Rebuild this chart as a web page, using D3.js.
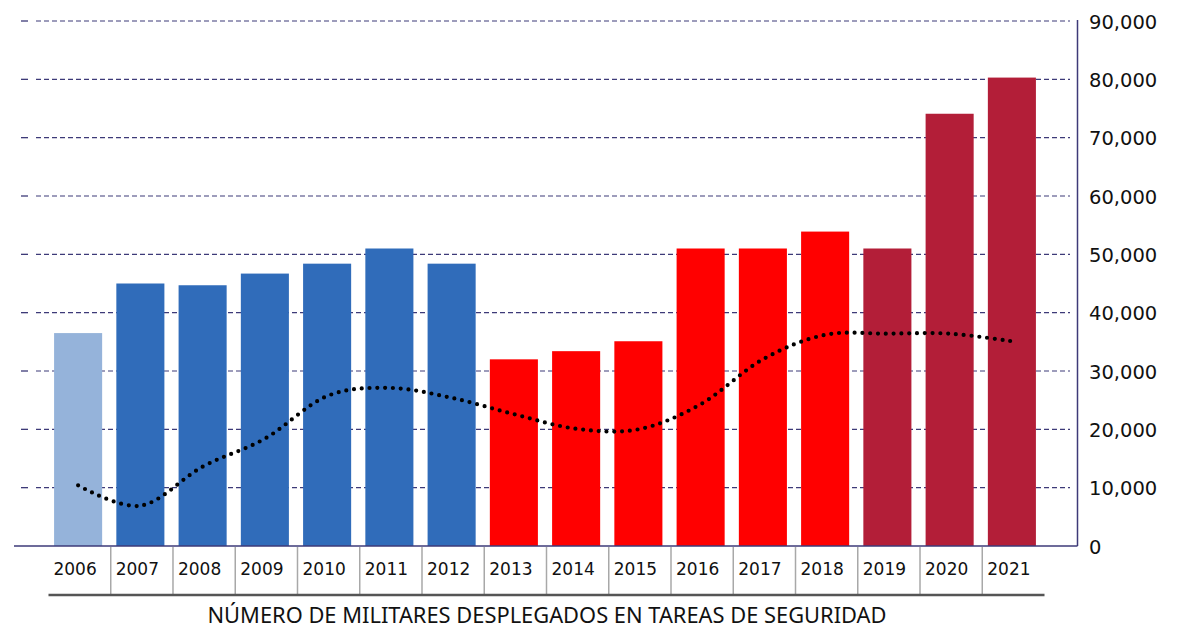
<!DOCTYPE html>
<html>
<head>
<meta charset="utf-8">
<script src="https://cdn.jsdelivr.net/npm/d3@7"></script>
<style>
  html, body { margin: 0; padding: 0; background: #ffffff; }
  svg { display: block; }
</style>
</head>
<body>
<div id="chart"></div>
<script>
// ---- data ----
const years = ["2006","2007","2008","2009","2010","2011","2012","2013","2014","2015","2016","2017","2018","2019","2020","2021"];
const troops = [36500, 45000, 44700, 46700, 48400, 51000, 48400, 32000, 33400, 35100, 51000, 51000, 53900, 51000, 74100, 80300];
const trend = [10400, 6900, 13600, 18400, 25700, 27100, 25400, 22600, 20100, 20000, 24300, 32000, 36200, 36400, 36400, 35100];
const groups = ["light","blue","blue","blue","blue","blue","blue","red","red","red","red","red","red","dark","dark","dark"];
const yTicks = [0, 10000, 20000, 30000, 40000, 50000, 60000, 70000, 80000, 90000];
const title = "NÚMERO DE MILITARES DESPLEGADOS EN TAREAS DE SEGURIDAD";

// ---- styles ----
const colors = { light: "#95B3DA", blue: "#306CBA", red: "#FF0000", dark: "#B31E38" };
const W = 1180, H = 628;
const axisColor = "#3D3A78";

const svg = d3.select("#chart").append("svg").attr("width", W).attr("height", H);

const x = d3.scaleBand().domain(years).range([13, 1077]).paddingInner(0.228).paddingOuter(0.66);
const y = d3.scaleLinear().domain([0, 90000]).range([546, 21]);

// grid lines
const grid = svg.append("g");
yTicks.filter(d => d > 0).forEach(t => {
  grid.append("line").attr("x1", 21).attr("x2", 28).attr("y1", y(t)).attr("y2", y(t))
    .attr("stroke", axisColor).attr("stroke-width", 1.3);
  grid.append("line").attr("x1", 36).attr("x2", 1070).attr("y1", y(t)).attr("y2", y(t))
    .attr("stroke", axisColor).attr("stroke-width", 1.2).attr("stroke-dasharray", "5,3");
});

// bars
svg.append("g").selectAll("rect").data(years).join("rect")
  .attr("x", d => x(d))
  .attr("width", x.bandwidth())
  .attr("y", (d, i) => y(troops[i]))
  .attr("height", (d, i) => y(0) - y(troops[i]))
  .attr("fill", (d, i) => colors[groups[i]]);

// dotted trend line
const line = d3.line()
  .x((d, i) => x(years[i]) + x.bandwidth() / 2)
  .y(d => y(d))
  .curve(d3.curveCardinal.tension(0));
svg.append("path").datum(trend)
  .attr("d", line)
  .attr("fill", "none")
  .attr("stroke", "#000")
  .attr("stroke-width", 4.2)
  .attr("stroke-linecap", "round")
  .attr("stroke-dasharray", "0,7.8");

// axes lines
svg.append("line").attr("x1", 14).attr("x2", 1077.5).attr("y1", y(0)).attr("y2", y(0))
  .attr("stroke", axisColor).attr("stroke-width", 1.5);
svg.append("line").attr("x1", 1077.5).attr("x2", 1077.5).attr("y1", y(90000) - 1).attr("y2", y(0))
  .attr("stroke", axisColor).attr("stroke-width", 1.5);

// right axis labels
const yAxis = d3.axisRight(y).tickValues(yTicks).tickSize(0).tickPadding(0)
  .tickFormat(d3.format(","));
const ya = svg.append("g").attr("transform", "translate(1089,0)").call(yAxis);
ya.select(".domain").remove();
ya.selectAll("text")
  .attr("font-family", "'DejaVu Sans', sans-serif")
  .attr("font-size", "19.5px")
  .attr("fill", "#111")
  .attr("dy", "0.36em");

// category table
const step = x.step();
const cellOff = 1.5;
const table = svg.append("g");
years.forEach((yr, i) => {
  const cx = x(yr) + x.bandwidth() / 2 + cellOff;
  if (i > 0) {
    table.append("line").attr("x1", cx - step / 2).attr("x2", cx - step / 2)
      .attr("y1", y(0) + 1).attr("y2", 594)
      .attr("stroke", "#A8A8A8").attr("stroke-width", 1.5);
  }
});
const xAxis = d3.axisBottom(x).tickSize(0).tickPadding(0);
const xa = svg.append("g").attr("transform", "translate(-3,0)").call(xAxis);
xa.select(".domain").remove();
xa.selectAll("text")
  .attr("font-family", "'DejaVu Sans', sans-serif")
  .attr("font-size", "17px")
  .attr("fill", "#111")
  .attr("dy", 0)
  .attr("y", 575);

const first = x(years[0]) + x.bandwidth() / 2 + cellOff - step / 2;
const last = x(years[years.length - 1]) + x.bandwidth() / 2 + cellOff + step / 2;
table.append("line").attr("x1", first).attr("x2", last).attr("y1", 595).attr("y2", 595)
  .attr("stroke", "#555").attr("stroke-width", 2.5);

// title
svg.append("text")
  .attr("x", 547).attr("y", 623)
  .attr("text-anchor", "middle")
  .attr("font-family", "'Liberation Sans Narrow', 'Noto Sans', sans-serif")
  .attr("font-size", "22px")
  .attr("fill", "#111")
  .attr("textLength", 679)
  .attr("lengthAdjust", "spacingAndGlyphs")
  .text(title);
</script>
</body>
</html>
